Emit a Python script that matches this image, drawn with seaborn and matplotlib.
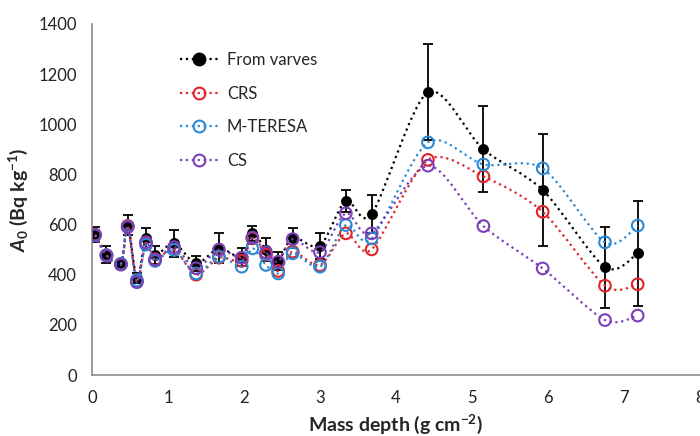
import numpy as np
import matplotlib
matplotlib.use("Agg")
import matplotlib.pyplot as plt
from matplotlib.path import Path
from matplotlib.patches import PathPatch
from matplotlib.lines import Line2D
import seaborn as sns

# mass depth (g cm-2) of each layer
depth = [0.04, 0.19, 0.38, 0.47, 0.59, 0.71, 0.83, 1.08, 1.37, 1.67, 1.97, 2.11,
         2.29, 2.45, 2.64, 3.00, 3.34, 3.68, 4.42, 5.15, 5.93, 6.75, 7.18]

# A0 values (Bq kg-1)
varves = [560, 480, 445, 600, 385, 545, 478, 525, 445, 505, 470, 565,
          500, 455, 548, 515, 695, 642, 1128, 900, 738, 430, 485]
varves_err = [30, 35, 15, 40, 20, 40, 35, 55, 30, 60, 35, 30,
              45, 35, 40, 52, 43, 76, 192, 172, 225, 161, 208]
crs = [560, 478, 443, 595, 375, 525, 462, 500, 400, 468, 455, 545,
       480, 415, 492, 438, 565, 501, 858, 792, 651, 356, 362]
mteresa = [558, 478, 443, 592, 378, 520, 455, 499, 405, 472, 432, 505,
           439, 405, 485, 432, 598, 545, 928, 840, 824, 529, 596]
cs = [558, 476, 440, 590, 370, 530, 460, 510, 426, 500, 468, 548,
      489, 452, 542, 490, 645, 565, 835, 594, 425, 219, 237]

labels = ["From varves", "CRS", "M-TERESA", "CS"]
colors = ["black", "#E0262A", "#2B8AD6", "#7B3FB8"]

sns.set_style("white")
plt.rcParams["font.family"] = ["Lato", "DejaVu Sans"]
plt.rcParams["mathtext.fontset"] = "custom"
plt.rcParams["mathtext.rm"] = "Lato:bold"
plt.rcParams["mathtext.it"] = "Lato:italic:bold"


def smooth_path(x, y):
    # excel style smoothed line: bezier segments through the points
    pts = np.column_stack([x, y]).astype(float)
    n = len(pts)
    verts = [pts[0]]
    codes = [Path.MOVETO]
    for i in range(n - 1):
        p0 = pts[i - 1] if i > 0 else pts[i]
        p1 = pts[i]
        p2 = pts[i + 1]
        p3 = pts[i + 2] if i + 2 < n else pts[i + 1]
        verts += [p1 + (p2 - p0) / 7, p2 - (p3 - p1) / 7, p2]
        codes += [Path.CURVE4] * 3
    return Path(verts, codes)


fig = plt.figure(figsize=(7, 4.36), dpi=100)
ax = fig.add_axes([92 / 700, 61 / 436, 608 / 700, 351 / 436])

series = [varves, crs, mteresa, cs]
for k, (vals, col) in enumerate(zip(series, colors)):
    z = 2 + k
    ax.add_patch(PathPatch(smooth_path(depth, vals), fill=False, edgecolor=col,
                           linestyle=":", linewidth=1.6, zorder=z))
    if k == 0:
        ax.errorbar(depth, vals, yerr=varves_err, fmt="none", ecolor="black",
                    elinewidth=1.3, capsize=3.5, capthick=1.3, zorder=z)
        sns.scatterplot(x=depth, y=vals, ax=ax, color="black", s=62,
                        edgecolor="black", linewidth=0, zorder=z + 0.5)
    else:
        ax.scatter(depth, vals, s=70, facecolors="none", edgecolors=col,
                   linewidths=1.5, zorder=z + 0.5)

ax.set_xlim(0, 8)
ax.set_ylim(0, 1400)
ax.set_xticks(range(0, 9))
ax.set_yticks(range(0, 1401, 200))
for s in ["top", "right"]:
    ax.spines[s].set_visible(False)
for s in ["left", "bottom"]:
    ax.spines[s].set_color("#8c8c8c")
    ax.spines[s].set_linewidth(1.2)
ax.tick_params(axis="both", direction="out", length=5, width=1.2, color="#8c8c8c",
               labelsize=12, labelcolor="#222222", pad=6)
ax.set_xlabel(r"Mass depth (g cm$^{-2}$)", fontsize=14, fontweight="bold", labelpad=5)
ax.set_ylabel(r"$A_{\mathit{0}}$ (Bq kg$^{-1}$)", fontsize=14, fontweight="bold", labelpad=6)

handles = []
for k, col in enumerate(colors):
    handles.append(Line2D([], [], color=col, linestyle=":", linewidth=1.6, marker="o",
                          markersize=8.5, markerfacecolor=col if k == 0 else "none",
                          markeredgecolor=col, markeredgewidth=1.5))
fig.legend(handles, labels, loc="upper left", bbox_to_anchor=(0.236, 0.915),
           frameon=False, fontsize=12, handlelength=2.3, handletextpad=0.5,
           labelspacing=1.05)

fig.savefig("out.png", dpi=100)
